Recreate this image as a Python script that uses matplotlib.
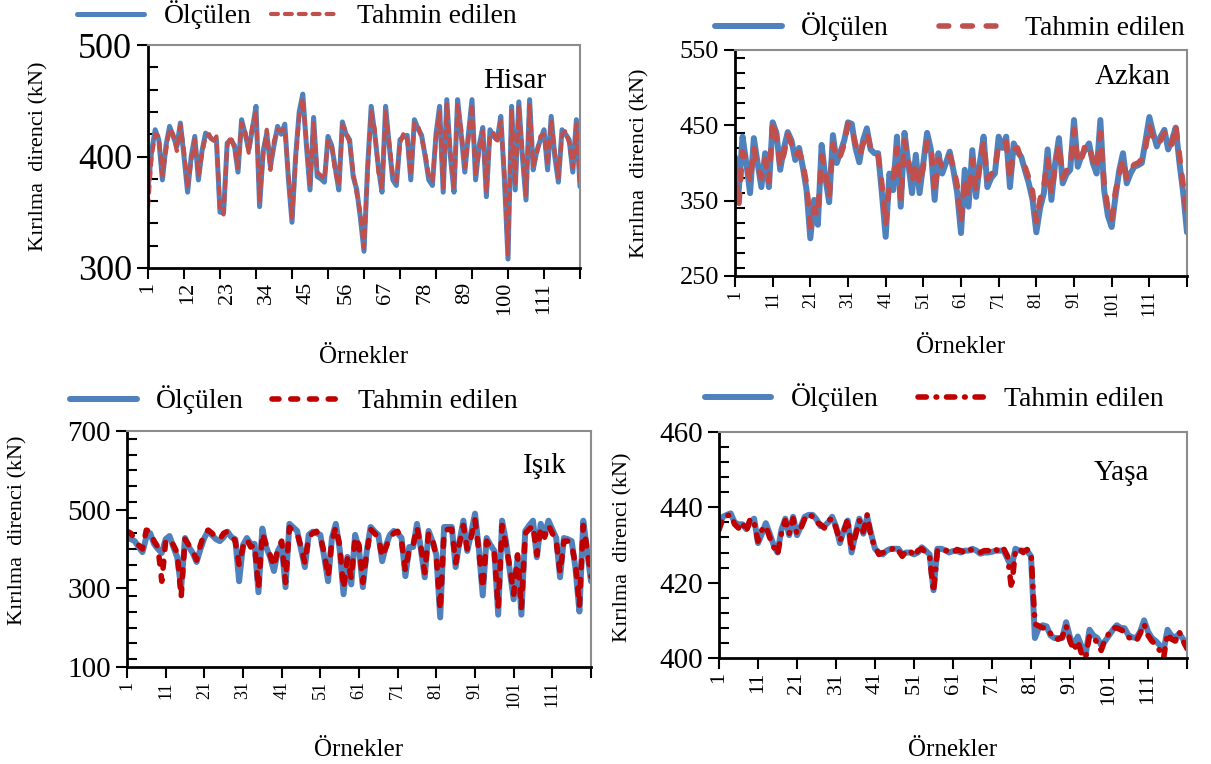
import matplotlib
matplotlib.use('Agg')
import matplotlib.pyplot as plt
from matplotlib.ticker import MultipleLocator, FixedLocator

plt.rcParams['font.family'] = ['Liberation Serif', 'DejaVu Serif']
plt.rcParams['lines.scale_dashes'] = False

BLUE = '#4f81bd'
RED1 = '#c0504d'
RED2 = '#c00000'

samples = list(range(1, 122))

hisar_olculen = [
    370, 405, 424, 415, 379, 410, 427, 418, 409, 430,
    400, 368, 400, 418, 379, 405, 421, 418, 415, 415,
    350, 350, 412, 415, 410, 386, 433, 420, 406, 425,
    445, 355, 405, 421, 391, 410, 427, 420, 429, 380,
    341, 400, 440, 456, 410, 370, 435, 382, 380, 377,
    418, 410, 390, 370, 431, 420, 415, 382, 370, 345,
    315, 390, 445, 420, 390, 368, 445, 410, 379, 374,
    415, 418, 419, 379, 433, 425, 419, 400, 379, 374,
    420, 445, 368, 451, 400, 368, 451, 420, 386, 420,
    451, 379, 410, 426, 364, 424, 418, 415, 436, 380,
    308, 445, 370, 449, 400, 361, 451, 388, 405, 415,
    424, 388, 436, 400, 377, 424, 420, 415, 386, 433,
    373]
hisar_tahmin = [
    355, 400, 420, 418, 383, 405, 425, 420, 405, 428,
    405, 372, 396, 415, 383, 402, 418, 420, 412, 418,
    352, 348, 410, 418, 407, 390, 430, 423, 403, 428,
    440, 360, 402, 424, 388, 414, 424, 423, 425, 384,
    345, 395, 436, 452, 414, 374, 430, 386, 383, 380,
    414, 412, 386, 374, 428, 423, 412, 386, 366, 349,
    318, 386, 440, 424, 386, 372, 440, 413, 383, 378,
    412, 421, 415, 383, 430, 428, 416, 403, 383, 378,
    416, 440, 372, 447, 404, 372, 447, 424, 390, 416,
    447, 383, 406, 423, 368, 420, 421, 412, 432, 384,
    312, 441, 374, 445, 404, 365, 447, 392, 402, 418,
    420, 392, 432, 404, 381, 420, 423, 412, 390, 429,
    376]

azkan_olculen = [
    408, 364, 435, 400, 360, 433, 400, 368, 413, 368,
    454, 440, 391, 420, 441, 430, 404, 420, 395, 364,
    300, 351, 318, 424, 380, 348, 437, 400, 415, 430,
    454, 452, 420, 401, 430, 446, 418, 413, 413, 360,
    302, 386, 364, 435, 342, 440, 400, 360, 411, 360,
    400, 440, 418, 351, 413, 386, 400, 415, 390, 360,
    307, 391, 342, 417, 355, 400, 435, 368, 380, 386,
    435, 420, 435, 368, 426, 415, 408, 390, 373, 351,
    308, 340, 360, 418, 351, 400, 433, 373, 385, 391,
    457, 395, 410, 418, 426, 400, 386, 457, 364, 330,
    315, 355, 390, 413, 373, 386, 395, 397, 400, 430,
    461, 440, 422, 435, 444, 418, 430, 447, 400, 360,
    308]
azkan_tahmin = [
    400, 342, 415, 405, 375, 420, 395, 380, 405, 375,
    455, 435, 395, 412, 438, 425, 410, 415, 400, 372,
    315, 340, 330, 410, 390, 355, 425, 405, 410, 425,
    452, 445, 425, 410, 425, 440, 420, 418, 410, 372,
    318, 375, 380, 420, 350, 430, 405, 375, 400, 372,
    395, 428, 425, 360, 405, 395, 405, 410, 395, 370,
    322, 380, 355, 405, 365, 395, 428, 378, 385, 392,
    425, 425, 428, 378, 418, 420, 405, 395, 380, 362,
    322, 352, 370, 405, 360, 395, 425, 380, 390, 395,
    445, 400, 405, 425, 420, 405, 392, 440, 372, 340,
    325, 362, 385, 405, 380, 392, 398, 400, 405, 420,
    450, 432, 425, 430, 440, 425, 425, 450, 410, 370,
    325]

isik_olculen = [
    430, 425, 420, 405, 392, 430, 440, 413, 400, 390,
    425, 433, 405, 379, 300, 428, 405, 390, 367, 400,
    428, 446, 435, 425, 420, 430, 444, 430, 425, 318,
    410, 428, 413, 413, 290, 452, 405, 380, 344, 395,
    413, 303, 464, 455, 446, 400, 354, 436, 444, 440,
    436, 380, 318, 428, 464, 400, 285, 380, 310, 436,
    400, 303, 395, 456, 445, 436, 369, 410, 436, 446,
    440, 428, 331, 405, 405, 464, 400, 328, 446, 420,
    385, 226, 456, 456, 456, 354, 420, 472, 395, 440,
    490, 400, 282, 428, 410, 395, 233, 472, 420, 344,
    272, 379, 233, 446, 460, 472, 379, 464, 436, 472,
    450, 428, 328, 428, 425, 420, 350, 241, 472, 395,
    318]
isik_tahmin = [
    445, 440, 425, 410, 400, 448, 445, 420, 405, 318,
    420, 425, 410, 390, 277, 425, 410, 395, 372, 410,
    440, 448, 440, 430, 425, 440, 445, 435, 420, 360,
    405, 425, 405, 410, 300, 440, 410, 385, 355, 400,
    420, 315, 455, 445, 440, 405, 365, 430, 440, 445,
    430, 390, 330, 420, 455, 410, 300, 375, 325, 430,
    410, 315, 390, 450, 440, 430, 380, 405, 430, 440,
    445, 420, 345, 400, 410, 455, 405, 340, 440, 425,
    380, 245, 445, 450, 450, 365, 415, 460, 400, 430,
    475, 395, 300, 420, 405, 390, 250, 460, 410, 355,
    285, 385, 250, 440, 450, 460, 385, 455, 430, 460,
    440, 420, 340, 420, 420, 410, 360, 255, 460, 400,
    330]

yasa_olculen = [
    435, 437.5, 438, 438.4, 436, 435.5, 435.5, 434.2, 436, 437,
    430.5, 433, 435.8, 433, 430, 428, 434, 437, 432.6, 437.5,
    432.6, 435, 437.5, 438, 438, 436.8, 435, 435, 436, 437.5,
    435, 430.5, 434, 436.5, 428, 433, 437, 433, 437.5, 433,
    429, 428, 427.5, 428.5, 429, 429, 429, 427.5, 428, 428,
    427.5, 428, 429.4, 428.5, 427.5, 418, 429, 429, 428.6, 428,
    428.4, 428.4, 428, 428.5, 428.5, 429, 428.5, 427.7, 428, 428,
    428.2, 428.5, 428.5, 428.5, 426.3, 424, 429, 428.5, 428.5, 428.5,
    427, 405.3, 408, 408.7, 408.4, 406, 405.3, 405.3, 405.3, 409.5,
    405.5, 403.4, 405.7, 403, 400.8, 407.5, 406, 405.3, 403.4, 404.5,
    406, 407.5, 408.7, 408, 407.9, 406, 405.5, 405.3, 407, 410,
    407, 405.3, 404.5, 403.4, 402, 407.5, 406, 405.3, 406.5, 405,
    403.4]
yasa_tahmin = [
    434, 437, 437.8, 438, 435.5, 434.5, 436, 433.5, 437, 436,
    431, 434, 435, 432, 429.5, 427.5, 433, 436.5, 433, 437,
    433, 434.5, 437, 438.2, 437.5, 436, 435.5, 434.5, 436.5, 437,
    434.5, 431, 433.5, 437, 428.5, 432.5, 436.5, 433.5, 438, 432,
    429.5, 427.5, 428, 428, 428.5, 429.5, 428.5, 427, 428.5, 428.5,
    427, 428.5, 429, 428, 427, 417.5, 428.5, 429, 428.5, 428.5,
    428, 428.8, 428.5, 428, 429, 428.5, 428, 428, 428.5, 428.5,
    428, 428.8, 428, 429, 427, 418.4, 428.5, 429, 428, 428.8,
    428, 409, 408.5, 408, 408, 406.5, 405, 405, 405.5, 408.5,
    404.5, 402, 404.5, 401, 400, 406, 405.5, 404, 402, 405,
    406.5, 408, 408, 407.5, 407, 405.5, 405, 404.5, 406.5, 409,
    406, 404.5, 403.5, 402, 400, 406.5, 405, 404.5, 407, 404.5,
    402.5]

W, H = 1211, 764
fig = plt.figure(figsize=(W / 100, H / 100), dpi=100)


def box(left, top, right, bottom):
    return [left / W, 1 - bottom / H, (right - left) / W, (bottom - top) / H]


def panel(rect, meas, pred, red, dashes, red_lw, blue_lw, yticks, yminor,
          label_step, name, name_xy, ytick_fs, xtick_fs, ylab_xy, xlab_pad,
          leg_xy, colsp):
    ax = fig.add_axes(box(*rect))
    l1, = ax.plot(samples, meas, color=BLUE, lw=blue_lw, solid_capstyle='round')
    l2, = ax.plot(samples, pred, color=red, lw=red_lw, dashes=dashes,
                  dash_capstyle='round')
    ax.set_xlim(1, 121)
    ax.set_ylim(yticks[0], yticks[-1])
    ax.set_yticks(yticks)
    ax.yaxis.set_minor_locator(MultipleLocator(yminor))
    ax.tick_params(axis='y', which='major', direction='out', length=8, width=1.5,
                   labelsize=ytick_fs)
    ax.tick_params(axis='y', which='minor', direction='in', length=7, width=1.5)
    # labels every label_step samples, tick marks every 10
    ax.xaxis.remove_overlapping_locs = False
    lab = list(range(1, 112, label_step))
    ax.set_xticks(lab)
    ax.set_xticklabels([str(v) for v in lab], rotation=90)
    ax.xaxis.set_minor_locator(FixedLocator(list(range(1, 122, 10))))
    ax.tick_params(axis='x', which='major', length=0, labelsize=xtick_fs, pad=10)
    ax.tick_params(axis='x', which='minor', direction='out', length=8, width=1.5)
    for s in ['left', 'bottom']:
        ax.spines[s].set_linewidth(2)
    for s in ['top', 'right']:
        ax.spines[s].set_color('#8c8c8c')
        ax.spines[s].set_linewidth(1.5)
    ax.set_ylabel('Kırılma  direnci (kN)', fontsize=16)
    ax.yaxis.set_label_coords(*ylab_xy)
    ax.set_xlabel('Örnekler', fontsize=18, labelpad=xlab_pad)
    ax.text(name_xy[0], name_xy[1], name, transform=ax.transAxes, fontsize=21,
            ha='center', va='center')
    fig.legend([l1, l2], ['Ölçülen', 'Tahmin edilen'], loc='center',
               bbox_to_anchor=(leg_xy[0] / W, 1 - leg_xy[1] / H), ncol=2,
               frameon=False, fontsize=20, handlelength=2.4, columnspacing=colsp,
               handletextpad=0.7)
    return ax


panel((148, 45, 580, 268), hisar_olculen, hisar_tahmin, RED1, (5, 5), 3.0, 3.6,
      [300, 400, 500], 20, 11, 'Hisar', (0.85, 0.84), 26, 16, (-0.23, 0.5), 22,
      (297, 15), 0.7)
panel((735, 50, 1187, 276), azkan_olculen, azkan_tahmin, RED1, (7, 10), 4.0, 4.3,
      [250, 350, 450, 550], 20, 10, 'Azkan', (0.88, 0.88), 19, 13, (-0.19, 0.5), 14,
      (950, 27), 1.8)
panel((127, 431, 591, 667), isik_olculen, isik_tahmin, RED2, (5, 8.5), 4.0, 4.3,
      [100, 300, 500, 700], 40, 10, 'Işık', (0.9, 0.85), 21, 13, (-0.215, 0.58), 22,
      (294, 400), 1.0)
panel((719, 432, 1187, 658), yasa_olculen, yasa_tahmin, RED2, (6, 7, 0.5, 7), 4.0, 4.3,
      [400, 420, 440, 460], 4, 10, 'Yaşa', (0.86, 0.82), 21, 16, (-0.185, 0.49), 24,
      (934, 398), 1.4)

fig.savefig('out.png', dpi=100)
